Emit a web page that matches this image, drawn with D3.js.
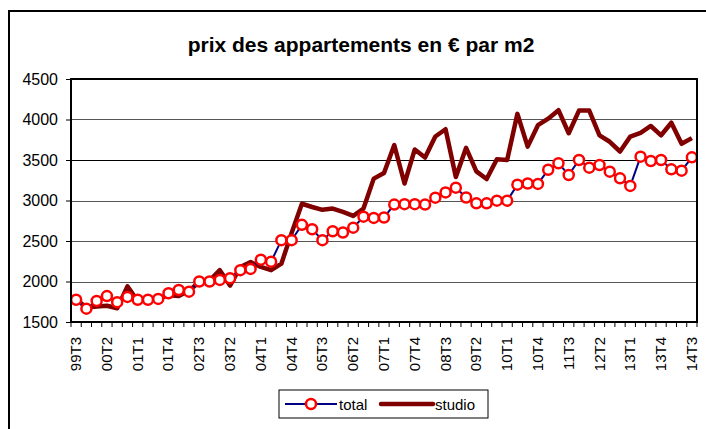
<!DOCTYPE html>
<html>
<head>
<meta charset="utf-8">
<script src="https://cdn.jsdelivr.net/npm/d3@7/dist/d3.min.js"></script>
<style>
  body { margin: 0; background: #fff; }
  text { font-family: Arial, "Liberation Sans", sans-serif; fill: #000; }
</style>
</head>
<body>
<div id="chart"></div>
<script>
// quarters 99T3 .. 14T3
var quarters = [
  "99T3","99T4",
  "00T1","00T2","00T3","00T4",
  "01T1","01T2","01T3","01T4",
  "02T1","02T2","02T3","02T4",
  "03T1","03T2","03T3","03T4",
  "04T1","04T2","04T3","04T4",
  "05T1","05T2","05T3","05T4",
  "06T1","06T2","06T3","06T4",
  "07T1","07T2","07T3","07T4",
  "08T1","08T2","08T3","08T4",
  "09T1","09T2","09T3","09T4",
  "10T1","10T2","10T3","10T4",
  "11T1","11T2","11T3","11T4",
  "12T1","12T2","12T3","12T4",
  "13T1","13T2","13T3","13T4",
  "14T1","14T2","14T3"
];

// only every third quarter gets a label
var tickLabels = ["99T3","00T2","01T1","01T4","02T3","03T2","04T1","04T4","05T3","06T2",
  "07T1","07T4","08T3","09T2","10T1","10T4","11T3","12T2","13T1","13T4","14T3"];

var total = [
  1775, 1665,
  1760, 1820, 1745, 1810,
  1775, 1775, 1785, 1855,
  1895, 1875, 2000, 2000,
  2020, 2040, 2140, 2155,
  2270, 2245, 2510, 2510,
  2700, 2645, 2510, 2620,
  2605, 2665, 2800, 2785,
  2790, 2950, 2955, 2955,
  2950, 3035, 3100, 3158,
  3037, 2965, 2965, 2998,
  2998, 3195, 3210, 3205,
  3380, 3460, 3315, 3500,
  3405, 3438, 3356, 3274,
  3180, 3541, 3488, 3500,
  3385, 3368, 3533
];

var studio = [
  1780, 1680,
  1690, 1700, 1670, 1940,
  1760, 1780, 1790, 1830,
  1820, 1890, 1990, 2010,
  2140, 1950, 2180, 2240,
  2180, 2140, 2220, 2600,
  2960, 2920, 2885, 2900,
  2860, 2810, 2900, 3270,
  3340, 3685, 3210, 3630,
  3530, 3790, 3880, 3290,
  3650, 3360, 3265, 3510,
  3500, 4070, 3665, 3930,
  4010, 4115, 3830, 4110,
  4110, 3805, 3725, 3605,
  3790, 3835, 3920, 3805,
  3960, 3700, 3770
];

var yTicks = [1500, 2000, 2500, 3000, 3500, 4000, 4500];

var W = 706, H = 429;
var margin = {top: 79, right: 9, bottom: 107, left: 71};
var width = W - margin.left - margin.right,
    height = H - margin.top - margin.bottom;

var svg = d3.select("#chart")
  .append("svg")
    .attr("width", W)
    .attr("height", H);

// outer frame (runs off the page on the right and bottom)
svg.append("rect")
  .attr("x", 9).attr("y", 11)
  .attr("width", 760).attr("height", 500)
  .attr("fill", "none")
  .attr("stroke", "#000")
  .attr("stroke-width", 2);

svg.append("text")
  .attr("x", 361)
  .attr("y", 52)
  .attr("text-anchor", "middle")
  .style("font-size", "21px")
  .style("font-weight", "bold")
  .text("prix des appartements en \u20AC par m2");

var g = svg.append("g")
  .attr("transform", "translate(" + margin.left + "," + margin.top + ")");

var x = d3.scaleBand()
  .domain(quarters)
  .range([0, width]);

var y = d3.scaleLinear()
  .domain([1500, 4500])
  .range([height, 0]);

// gridlines
g.selectAll(".grid")
  .data(yTicks.slice(1, -1))
  .enter().append("line")
    .attr("x1", 0).attr("x2", width)
    .attr("y1", function(d) { return Math.round(y(d)) + 0.5; })
    .attr("y2", function(d) { return Math.round(y(d)) + 0.5; })
    .attr("stroke", function(d) { return d == 3500 ? "#000" : "#555"; })
    .attr("stroke-width", 1);

var cx = function(d, i) { return x(quarters[i]) + x.bandwidth() / 2; };

// studio line
g.append("path")
  .datum(studio)
  .attr("fill", "none")
  .attr("stroke", "#800000")
  .attr("stroke-width", 4.5)
  .attr("stroke-linejoin", "round")
  .attr("d", d3.line().x(cx).y(function(d) { return y(d); }));

// total line + markers
g.append("path")
  .datum(total)
  .attr("fill", "none")
  .attr("stroke", "#000080")
  .attr("stroke-width", 2)
  .attr("d", d3.line().x(cx).y(function(d) { return y(d); }));

g.selectAll(".dot")
  .data(total)
  .enter().append("circle")
    .attr("cx", cx)
    .attr("cy", function(d) { return y(d); })
    .attr("r", 5)
    .attr("fill", "#fff")
    .attr("stroke", "#ff0000")
    .attr("stroke-width", 2.5);

// y axis
var yAxis = g.append("g")
  .call(d3.axisLeft(y).tickValues(yTicks).tickFormat(d3.format("d")).tickSize(5).tickPadding(8));
yAxis.select(".domain").remove();
yAxis.selectAll("text").style("font-size", "16px");
yAxis.selectAll("line").attr("stroke", "#000");

// x axis: ticks at category boundaries
var bounds = d3.range(quarters.length + 1).map(function(i) { return i * x.step(); });
g.selectAll(".xtick")
  .data(bounds)
  .enter().append("line")
    .attr("x1", function(d) { return d; })
    .attr("x2", function(d) { return d; })
    .attr("y1", height)
    .attr("y2", height + 5)
    .attr("stroke", "#000");

g.selectAll(".xlab")
  .data(tickLabels)
  .enter().append("text")
    .attr("transform", function(d) {
      return "translate(" + (x(d) + x.bandwidth() / 2 + 5) + "," + (height + 15) + ") rotate(-90)";
    })
    .attr("text-anchor", "end")
    .style("font-size", "15px")
    .text(function(d) { return d; });

// plot border
g.append("rect")
  .attr("x", 0).attr("y", 0)
  .attr("width", width).attr("height", height)
  .attr("fill", "none")
  .attr("stroke", "#000")
  .attr("stroke-width", 2);

// legend
var legend = svg.append("g").attr("transform", "translate(279,390)");
legend.append("rect")
  .attr("width", 209).attr("height", 28)
  .attr("fill", "#fff")
  .attr("stroke", "#000")
  .attr("stroke-width", 1);
legend.append("line")
  .attr("x1", 6).attr("x2", 58).attr("y1", 14).attr("y2", 14)
  .attr("stroke", "#000080").attr("stroke-width", 2);
legend.append("circle")
  .attr("cx", 32).attr("cy", 14).attr("r", 5)
  .attr("fill", "#fff").attr("stroke", "#ff0000").attr("stroke-width", 2.5);
legend.append("text")
  .attr("x", 60).attr("y", 19.5)
  .style("font-size", "15px")
  .text("total");
legend.append("line")
  .attr("x1", 102).attr("x2", 154).attr("y1", 14).attr("y2", 14)
  .attr("stroke", "#800000").attr("stroke-width", 4.5)
  .attr("stroke-linecap", "round");
legend.append("text")
  .attr("x", 156).attr("y", 19.5)
  .style("font-size", "15px")
  .text("studio");
</script>
</body>
</html>
